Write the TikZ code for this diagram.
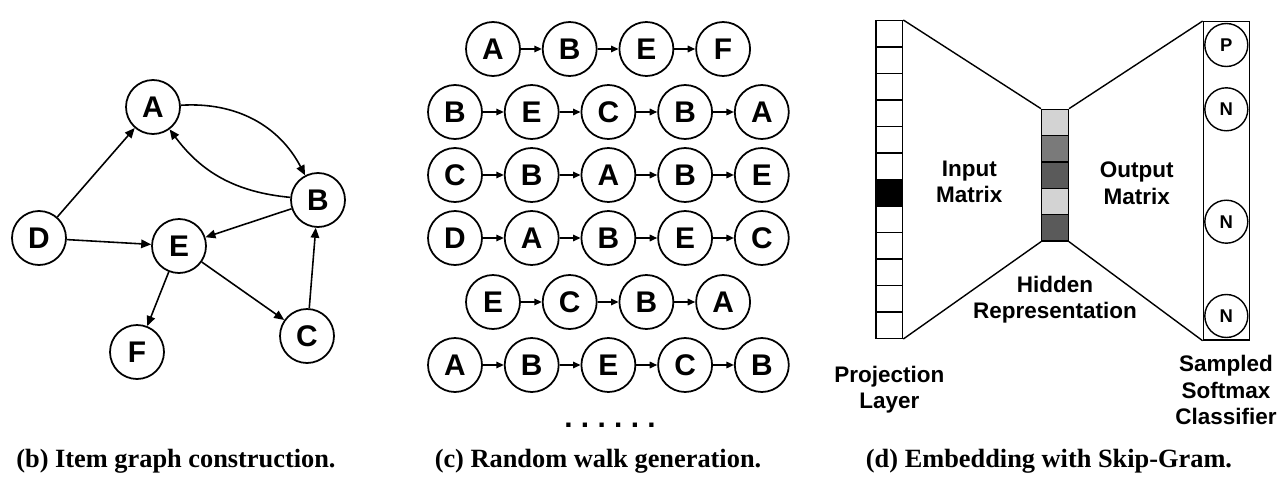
\documentclass[tikz,border=0pt]{standalone}
\usepackage{fontspec}
\setmainfont{Liberation Sans}
\newfontfamily\capserif{Liberation Serif}
\usetikzlibrary{arrows.meta}

\definecolor{cellLight}{HTML}{D3D3D3}
\definecolor{cellMid}{HTML}{7A7A7A}
\definecolor{cellDark}{HTML}{5A5A5A}

\begin{document}
\begin{tikzpicture}[x=0.02cm, y=-0.02cm,
    itemnode/.style={circle, draw, line width=1pt, minimum size=1.08cm, inner sep=0pt,
      font=\fontsize{17}{17}\selectfont\bfseries},
    graphedge/.style={line width=0.9pt, -{Triangle[length=0.2cm, width=0.17cm]}},
    walkstep/.style={line width=0.9pt, -{Triangle[length=0.15cm, width=0.13cm]}},
    samplenode/.style={circle, draw, line width=0.8pt, minimum size=0.86cm, inner sep=0pt,
      font=\fontsize{10.5}{10.5}\selectfont\bfseries},
    textlabel/.style={align=center, font=\fontsize{12.8}{15}\selectfont\bfseries},
    subcap/.style={font=\capserif\fontsize{15}{15}\selectfont\bfseries}]
  \useasboundingbox (0,0) rectangle (1284,483);

  % (b) item graph
  \node[itemnode] (A) at (153,107) {A};
  \node[itemnode] (B) at (318,200) {B};
  \node[itemnode] (D) at (39,238) {D};
  \node[itemnode] (E) at (179,246) {E};
  \node[itemnode] (F) at (137,352) {F};
  \node[itemnode] (C) at (307,336) {C};
  \draw[graphedge] (D) -- (A);
  \draw[graphedge] (D) -- (E);
  \draw[graphedge] (A) to[bend left=33] (B);
  \draw[graphedge] (B) to[bend left=24] (A);
  \draw[graphedge] (B) -- (E);
  \draw[graphedge] (E) -- (F);
  \draw[graphedge] (E) -- (C);
  \draw[graphedge] (C) -- (B);

  % (c) random walks
  \foreach \r/\xo/\yo/\walk in {1/493/49/{A,B,E,F}, 2/455/112/{B,E,C,B,A},
      3/455/175/{C,B,A,B,E}, 4/455/238/{D,A,B,E,C},
      5/493/302/{E,C,B,A}, 6/455/365/{A,B,E,C,B}}{
    \foreach \l [count=\i] in \walk {
      \node[itemnode] (w\r-\i) at (\xo+76.7*\i-76.7,\yo) {\l};
      \ifnum\i>1
        \pgfmathtruncatemacro\prev{\i-1}
        \draw[walkstep] (w\r-\prev) -- (w\r-\i);
      \fi
    }
  }
  \node (dots) at (610,425) {\fontsize{17}{17}\selectfont\bfseries\frenchspacing . . . . . .};

  % (d) skip-gram
  \node[draw, line width=0.8pt, minimum width=0.534cm, minimum height=6.352cm,
    inner sep=0pt] (proj) at (889.3,179.5) {};
  \foreach \i in {1,...,11}
    \draw[line width=0.8pt] (876,20.7+26.47*\i) -- (902.7,20.7+26.47*\i);
  \fill (876,179.5) rectangle (902.7,205.9);
  \node[draw, line width=0.8pt, minimum width=0.534cm, minimum height=2.634cm,
    inner sep=0pt] (hid) at (1055,175.2) {};
  \foreach \i/\c in {0/cellLight, 1/cellMid, 2/cellDark, 3/cellLight, 4/cellDark}
    \draw[line width=0.8pt, fill=\c] (1041.7,109.3+26.34*\i) rectangle ++(26.6,26.34);
  \node[draw, line width=0.8pt, minimum width=0.92cm, minimum height=6.366cm,
    inner sep=0pt] (outl) at (1226.3,180.9) {};
  \node[samplenode] (p1) at (1226.3,45) {P};
  \node[samplenode] (n1) at (1226.3,109.3) {N};
  \node[samplenode] (n2) at (1226.3,221.7) {N};
  \node[samplenode] (n3) at (1226.3,316) {N};
  \draw[line width=0.8pt] (proj.north east) -- (hid.north west);
  \draw[line width=0.8pt] (proj.south east) -- (hid.south west);
  \draw[line width=0.8pt] (hid.north east) -- (outl.north west);
  \draw[line width=0.8pt] (hid.south east) -- (outl.south west);
  \node[textlabel] (inmat) at (969.3,181.7) {Input\\Matrix};
  \node[textlabel] (outmat) at (1136.7,183.3) {Output\\Matrix};
  \node[textlabel] (hidrep) at (1055,300) {Hidden\\Representation};
  \node[textlabel] (projlay) at (889.3,390) {Projection\\Layer};
  \node[textlabel] (sampled) at (1226,390) {Sampled\\Softmax\\Classifier};

  % captions
  \node[subcap] (capb) at (176,461) {(b) Item graph construction.};
  \node[subcap] (capc) at (598,461) {(c) Random walk generation.};
  \node[subcap] (capd) at (1049,461) {(d) Embedding with Skip-Gram.};
\end{tikzpicture}
\end{document}
